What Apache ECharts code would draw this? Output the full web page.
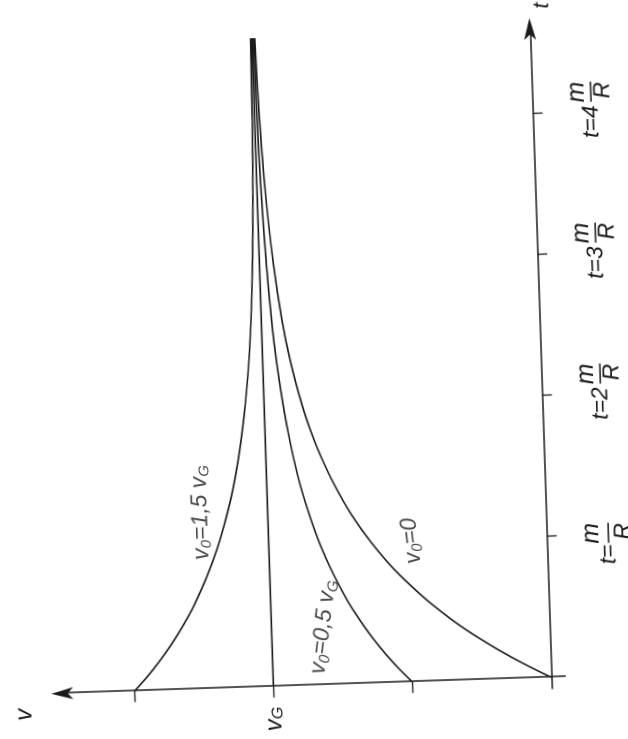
<!DOCTYPE html>
<html>
<head>
<meta charset="utf-8">
<script src="https://cdn.jsdelivr.net/npm/echarts@6/dist/echarts.min.js"></script>
<style>
html,body{margin:0;padding:0;width:628px;height:739px;overflow:hidden;background:#fff;}
#chart{position:absolute;}
</style>
</head>
<body>
<div id="chart"></div>
<script>
// ---- data (t in units of m/R, v in units of vG) ----
const tValues   = [0, 0.1, 0.2, 0.3, 0.4, 0.5, 0.6, 0.8, 1.0, 1.2, 1.4, 1.6, 1.8, 2.0, 2.3, 2.6, 3.0, 3.5, 4.0, 4.6];
const vStart0   = [0, 0.095, 0.181, 0.259, 0.330, 0.393, 0.451, 0.551, 0.632, 0.699, 0.753, 0.798, 0.835, 0.865, 0.900, 0.926, 0.950, 0.970, 0.982, 0.990];
const vStartHalf= [0.5, 0.548, 0.591, 0.630, 0.665, 0.697, 0.726, 0.775, 0.816, 0.849, 0.877, 0.899, 0.917, 0.932, 0.950, 0.963, 0.975, 0.985, 0.991, 0.995];
const vStart15  = [1.5, 1.452, 1.409, 1.370, 1.335, 1.303, 1.274, 1.225, 1.184, 1.151, 1.123, 1.101, 1.083, 1.068, 1.050, 1.037, 1.025, 1.015, 1.009, 1.005];
const vTerminal = [1, 1, 1, 1, 1, 1, 1, 1, 1, 1, 1, 1, 1, 1, 1, 1, 1, 1, 1, 1];
const tTickValues = [1, 2, 3, 4];
const vTickValues = [0.5, 1, 1.5];
const vLabelValues = [1];
const curveLabelText = ['v0=0', 'v0=0,5 vG', 'v0=1,5 vG'];
const curveLabelRich = ['{cv|v}{cs|0}{cv|=0}', '{cv|v}{cs|0}{cv|=0,5 v}{cs|G}', '{cv|v}{cs|0}{cv|=1,5 v}{cs|G}'];
const curveLabelAt = [[1.0, 0.487], [0.41, 0.814], [1.25, 1.242]];
const curveLabelTilt = [5, -8.5, 0];

// ---- layout (drawn upright, then the whole chart is turned like the page) ----
const PX_T = 141, PX_V = 278;
const T_MIN = -0.08, T_MAX = 4.6, V_MIN = -0.05, V_MAX = 1.76;
const GL = 70, GT = 60;
const gridW = (T_MAX - T_MIN) * PX_T, gridH = (V_MAX - V_MIN) * PX_V;
const W = Math.round(GL + gridW + 60), H = Math.round(GT + gridH + 110);
const u0 = GL - T_MIN * PX_T, w0 = GT + V_MAX * PX_V;
const ORIGIN = [551, 677], TURN = 91.9;
const el = document.getElementById('chart');
el.style.width = W + 'px';
el.style.height = H + 'px';
el.style.left = (ORIGIN[0] - u0) + 'px';
el.style.top = (ORIGIN[1] - w0) + 'px';
el.style.transformOrigin = u0 + 'px ' + w0 + 'px';
el.style.transform = 'rotate(-' + TURN + 'deg)';

const INK = '#1a1a1a';
const FONT = "'Liberation Sans', Arial, sans-serif";
const zip = (xs, ys) => xs.map((x, i) => [x, ys[i]]);

const chart = echarts.init(el, null, {renderer: 'canvas', devicePixelRatio: 2});

const lineSeries = (name, ys) => ({
  name, type: 'line', data: zip(tValues, ys), showSymbol: false, smooth: 0.4,
  clip: false, silent: true,
  lineStyle: {color: INK, width: 1.6}
});

const txt = (size, lh, extra) => Object.assign({fontFamily: FONT, fontStyle: 'italic', fontSize: size, lineHeight: lh, verticalAlign: 'middle', color: INK}, extra || {});

chart.setOption({
  animation: false,
  backgroundColor: '#fff',
  textStyle: {fontFamily: FONT, color: INK, fontStyle: 'italic'},
  grid: {left: GL, top: GT, width: gridW, height: gridH, containLabel: false, outerBoundsMode: 'none'},
  xAxis: {
    type: 'value', min: T_MIN, max: T_MAX,
    name: 't', nameLocation: 'end', nameGap: 20,
    nameTextStyle: {fontFamily: FONT, fontStyle: 'italic', fontSize: 22, color: INK, align: 'left', verticalAlign: 'top', padding: [2, 0, 0, 0]},
    axisLine: {onZero: true, lineStyle: {color: INK, width: 1.5}, symbol: ['none', 'arrow'], symbolSize: [9, 22], symbolOffset: [0, 11]},
    axisTick: {show: true, customValues: tTickValues, length: 10, lineStyle: {color: INK, width: 1.3}},
    splitLine: {show: false},
    axisLabel: {
      show: true, customValues: tTickValues, margin: 20, align: 'center', verticalAlign: 'top',
      formatter: v => v === 1
        ? '{s1|}{nm|m}{z|}\n{p1|t=}{b|}{z|}\n{s1|}{nr|R}{z|}'
        : '{s|}{nm|m}\n{p|t=' + v + '}{b|}\n{s|}{nr|R}',
      rich: {
        s: {width: 40}, s1: {width: 23}, z: {width: 20},
        p: txt(23, 6, {width: 40}), p1: txt(23, 6, {width: 23}),
        nm: txt(25, 22, {width: 20}),
        nr: txt(23, 18, {width: 18, padding: [0, 0, 0, 2]}),
        b: {width: 20, height: 1.5, backgroundColor: INK, verticalAlign: 'middle'}
      }
    }
  },
  yAxis: {
    type: 'value', min: V_MIN, max: V_MAX,
    name: 'v', nameLocation: 'end', nameGap: 26,
    nameTextStyle: {fontFamily: FONT, fontStyle: 'italic', fontSize: 24, color: INK, align: 'right', padding: [0, 14, 0, 0]},
    axisLine: {show: true, onZero: true, lineStyle: {color: INK, width: 1.5}, symbol: ['none', 'arrow'], symbolSize: [9, 22], symbolOffset: [0, 11]},
    axisTick: {show: true, customValues: vTickValues, length: 11, lineStyle: {color: INK, width: 1.3}},
    splitLine: {show: false},
    axisLabel: {
      show: true, customValues: vLabelValues, margin: 9,
      formatter: () => '{v|v}{s|G}',
      rich: {
        v: txt(24, 24),
        s: txt(16, 15, {verticalAlign: 'bottom'})
      }
    }
  },
  series: [
    lineSeries('v0=1,5 vG', vStart15),
    lineSeries('vG', vTerminal),
    lineSeries('v0=0,5 vG', vStartHalf),
    lineSeries('v0=0', vStart0),
    {
      name: 'labels', type: 'scatter', silent: true, symbolSize: 1,
      itemStyle: {color: 'rgba(0,0,0,0)'},
      data: curveLabelAt.map((p, i) => ({
        value: p, name: curveLabelText[i],
        label: {rotate: curveLabelTilt[i], formatter: curveLabelRich[i]}
      })),
      label: {
        show: true, position: 'inside', align: 'center', verticalAlign: 'middle',
        rich: {
          cv: txt(23, 26),
          cs: txt(15, 15, {verticalAlign: 'bottom'})
        }
      }
    }
  ]
});
</script>
</body>
</html>
